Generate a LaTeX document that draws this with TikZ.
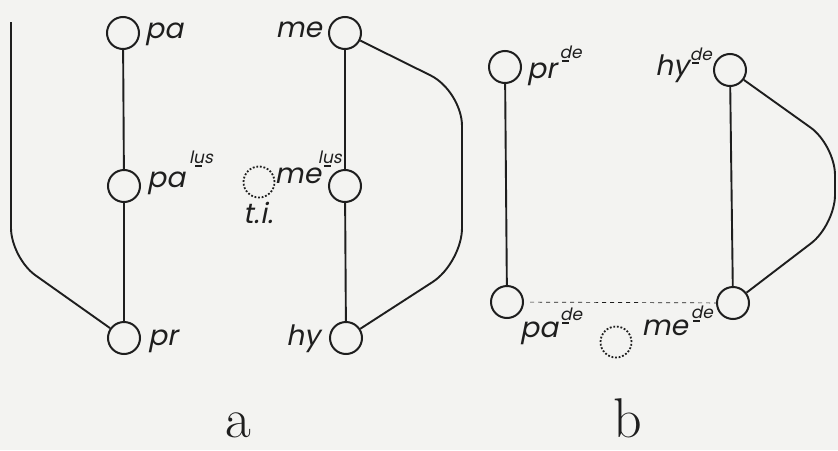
\documentclass[tikz,border=0pt]{standalone}
\usepackage{fontspec}
\usetikzlibrary{calc}
\newfontfamily\lblfont[FakeSlant=0.2]{Poppins}
\definecolor{paper}{HTML}{F3F3F1}
\definecolor{ink}{HTML}{1E1E1E}
\newcommand\ubar[1]{\setbox0\hbox{#1}\rlap{\hbox to\wd0{\hss\raisebox{-3.5pt}{\rule{0.6\wd0}{1.1pt}}\hss}}\box0}
\newcommand\supt[2]{\raisebox{#1}{\fontsize{17}{17}\selectfont #2}}
\begin{document}
\begin{tikzpicture}[x=1pt,y=-1pt,
  vtx/.style={circle,draw=ink,line width=2pt,minimum size=32pt,inner sep=0pt},
  ghostv/.style={circle,draw=ink,line width=1.8pt,dash pattern=on 1.8pt off 1.8pt,minimum size=31pt,inner sep=0pt},
  conn/.style={draw=ink,line width=1.9pt},
  lbl/.style={inner sep=0pt,font=\lblfont\fontsize{28}{28}\selectfont,text=ink},
  captxt/.style={inner sep=0pt,font=\fontsize{56}{56}\selectfont,text=ink}]
\fill[paper] (0,0) rectangle (838,450);
\useasboundingbox (0,0) rectangle (838,450);
% panel a
\node[vtx] (apa) at (123,33) {};
\node[vtx] (apalus) at (124,186) {};
\node[vtx] (apr) at (124,338) {};
\node[vtx] (ame) at (345,33) {};
\node[vtx] (amelus) at (345,186) {};
\node[vtx] (ahy) at (346,338) {};
\node[ghostv] (ati) at (259,182) {};
\coordinate (ltop) at (11,22);
\draw[conn] (apa) -- (apalus);
\draw[conn] (apalus) -- (apr);
\draw[conn] (ame) -- (amelus);
\draw[conn] (amelus) -- (ahy);
\draw[conn,rounded corners=30pt] (ltop) -- (11,258) -- (apr);
\draw[conn,rounded corners=35pt] (ame) -- (462,91) -- (462,263) -- (ahy);
\node[lbl,anchor=base west] (lpa) at (145,38) {pa};
\node[lbl,anchor=base west] (lpalus) at (147,187) {pa\kern4pt\supt{24pt}{l\ubar{u}s}};
\node[lbl,anchor=base west] (lpr) at (148,345) {pr};
\node[lbl,anchor=base east] (lme) at (322,37) {me};
\node[lbl,anchor=base east] (lmelus) at (342,183) {me\kern-3pt\supt{20pt}{l\ubar{u}s}};
\node[lbl,anchor=base east] (lhy) at (320,345) {hy};
\node[lbl,anchor=base] (lti) at (258,223) {t.\kern1pt i.};
% panel b
\node[vtx] (bpr) at (505,67) {};
\node[vtx] (bpa) at (507,302) {};
\node[vtx] (bhy) at (730,70) {};
\node[vtx] (bme) at (733,303) {};
\node[ghostv] (bgh) at (616,342) {};
\draw[conn] (bpr) -- (bpa);
\draw[conn] (bhy) -- (bme);
\draw[conn,rounded corners=30pt] (bhy) -- (835,145) -- (835,225) -- (bme);
\draw[draw=ink,line width=0.7pt,dash pattern=on 4pt off 4pt,shorten <=6pt] (bpa) -- (bme);
\node[lbl,anchor=base west] (lbpr) at (527,78) {pr\kern3pt\supt{20pt}{\ubar{d}e}};
\node[lbl,anchor=base east] (lbhy) at (712,75) {hy\kern1pt\supt{15pt}{\ubar{d}e}};
\node[lbl,anchor=base west] (lbpa) at (520,337) {pa\kern2pt\supt{17pt}{\ubar{d}e}};
\node[lbl,anchor=base east] (lbme) at (713,335) {me\kern3pt\supt{17pt}{\ubar{d}e}};
% captions
\node[captxt,anchor=base] (capa) at (238,437) {a};
\node[captxt,anchor=base] (capb) at (628,437) {b};
\end{tikzpicture}
\end{document}
